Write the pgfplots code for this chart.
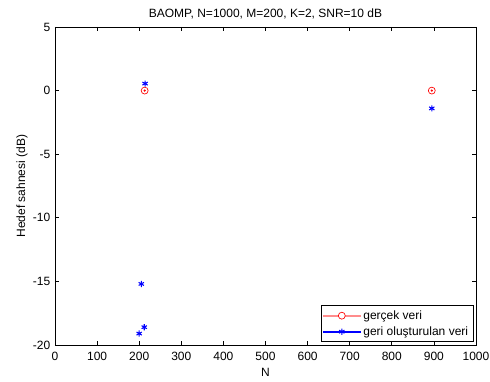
\documentclass[border=0pt]{standalone}
\usepackage{fontspec}
\setmainfont{Liberation Sans}
\usepackage{pgfplots}
\pgfplotsset{compat=1.18}
\begin{document}
\begin{tikzpicture}[x=0.75pt,y=0.75pt]
\useasboundingbox (-55,-37) rectangle (435,345);
\begin{axis}[
  at={(0,0)}, anchor=south west,
  scale only axis,
  width=315.75pt, height=238.5pt,
  xmin=0, xmax=1000, ymin=-20, ymax=5,
  xtick={0,100,...,1000}, ytick={-20,-15,...,5},
  tick align=inside, tick pos=both,
  major tick length=3pt,
  axis line style={line width=0.6pt},
  every tick/.style={black, line width=0.5pt},
  /pgf/number format/assume math mode=true,
  /pgf/number format/1000 sep={},
  tick label style={font=\fontsize{9}{11}\selectfont},
  xticklabel style={yshift=-1.5pt},
  title={BAOMP, N=1000, M=200, K=2, SNR=10 dB},
  title style={font=\fontsize{9}{11}\selectfont, at={(0.5,1)}, anchor=center, yshift=3.75pt},
  xlabel={N}, ylabel={Hedef sahnesi (dB)},
  xlabel style={font=\fontsize{9}{11}\selectfont, at={(0.5,0)}, anchor=center, yshift=-20.25pt},
  ylabel style={font=\fontsize{9}{11}\selectfont, at={(0,0.5)}, anchor=center, yshift=24.75pt},
  legend style={at={(0.993,0.0094)}, anchor=south east, font=\fontsize{9}{11}\selectfont,
    inner sep=1.5pt, row sep=0pt},
  legend cell align=left,
]
\addlegendimage{legend image code/.code={
  \fill[red!45] (0pt,-0.4pt) rectangle (28pt,0.4pt);
  \draw[red, line width=0.5pt, fill=white] (14pt,0pt) circle (2.6pt);}}
\addlegendentry{gerçek veri}
\addlegendimage{legend image code/.code={
  \fill[blue] (0pt,-0.4pt) rectangle (28pt,0.4pt);
  \draw[blue, line width=0.8pt] plot[mark=asterisk, mark size=2.3pt] coordinates {(14pt,0pt)};}}
\addlegendentry{geri oluşturulan veri}
\addplot[red, only marks, mark=o, mark size=2.6pt, line width=0.5pt, forget plot] coordinates {(213,0) (895,0)};
\addplot[blue, only marks, mark=asterisk, mark size=2.3pt, line width=0.8pt, forget plot] coordinates {
(214,0.55) (205,-15.2) (200,-19.1) (212,-18.6) (895,-1.4)};
\addplot[red, only marks, mark=*, mark size=0.6pt, forget plot] coordinates {(213,0) (895,0)};
\end{axis}
\end{tikzpicture}
\end{document}
